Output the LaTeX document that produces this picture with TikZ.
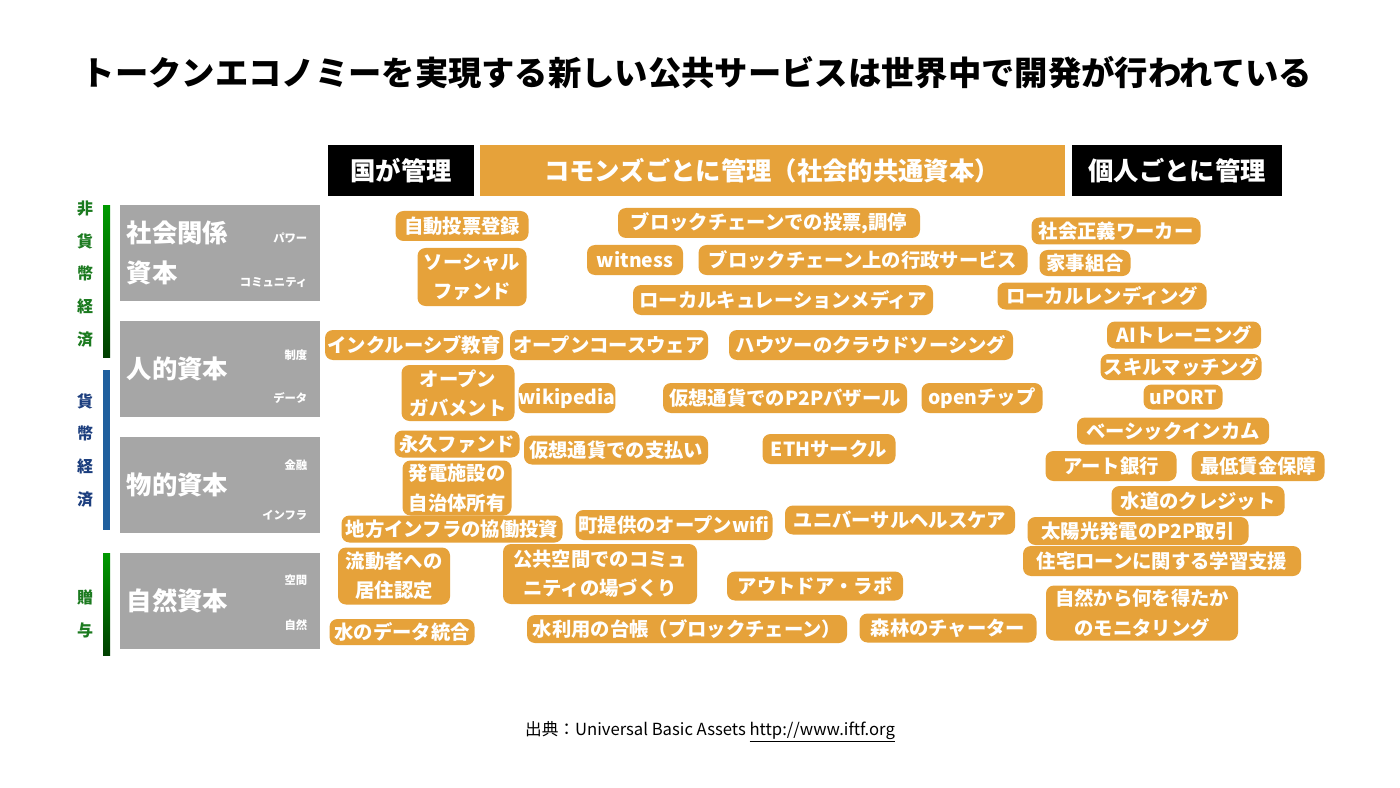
\documentclass[tikz,border=0pt]{standalone}
\usepackage{fontspec}
\setmainfont{Noto Sans CJK JP}
\usetikzlibrary{positioning}
\definecolor{tagorange}{HTML}{E6A23A}
\definecolor{capgray}{HTML}{A6A6A6}
\definecolor{barblue}{HTML}{1F5F9E}
\definecolor{txtgreen}{HTML}{1B7A1F}
\definecolor{txtblue}{HTML}{1C3E7E}
\tikzset{
  tagbox/.style={fill=tagorange, rounded corners=6pt, text=white, inner sep=0pt,
    minimum height=30*0.75pt, minimum width=#1*0.75pt, align=center,
    font=\fontsize{14.5}{22}\selectfont\bfseries},
  tall/.style={minimum height=#1*0.75pt},
  headbox/.style={inner sep=0pt, minimum height=51*0.75pt, minimum width=#1*0.75pt,
    font=\fontsize{19}{22}\selectfont\bfseries},
  capbox/.style={fill=capgray, inner sep=0pt, minimum width=200*0.75pt, minimum height=96*0.75pt},
  captitle/.style={text=white, anchor=west, align=left, font=\fontsize{19}{30}\selectfont\bfseries},
  capsub/.style={text=white, anchor=east, font=\fontsize{8.5}{10}\selectfont\bfseries},
}
\begin{document}
\begin{tikzpicture}[x=0.75pt,y=-0.75pt]
	\useasboundingbox[fill=white] (0,0) rectangle (1400,788);
	\node[font=\fontsize{25}{30}\selectfont\bfseries] (title) at (697,73) {トークンエコノミーを実現する新しい公共サービスは世界中で開発が行われている};
	% column heads
	\node[headbox=146, fill=black, text=white] (state) at (401,171) {国が管理};
	\node[headbox=585, fill=tagorange, text=white] (commons) at (772,171) {コモンズごとに管理（社会的共通資本）};
	\node[headbox=210, fill=black, text=white] (person) at (1177,171) {個人ごとに管理};
	% capital rows
	\node[capbox] (social) at (220,253) {};
	\node[capbox] (human) at (220,369) {};
	\node[capbox] (physical) at (220,485) {};
	\node[capbox] (natural) at (220,601) {};
	\node[captitle] at (122,253) {社会関係\\資本};
	\node[captitle] at (122,369) {人的資本};
	\node[captitle] at (122,485) {物的資本};
	\node[captitle] at (122,601) {自然資本};
	\node[capsub] at (312,238) {パワー};
	\node[capsub] at (312,283) {コミュニティ};
	\node[capsub] at (312,355) {制度};
	\node[capsub] at (312,398) {データ};
	\node[capsub] at (312,465) {金融};
	\node[capsub] at (312,515) {インフラ};
	\node[capsub] at (312,580) {空間};
	\node[capsub] at (312,625) {自然};
	% economy bars
	\shade[top color=green!60!black, bottom color=green!25!black] (103,206) rectangle (110,357);
	\fill[barblue] (103,370) rectangle (110,530);
	\shade[top color=green!60!black, bottom color=green!25!black] (103,553) rectangle (110,655);
	\node[text=txtgreen, align=center, font=\fontsize{12}{24.5}\selectfont\bfseries] (nonmoney) at (85,274) {非\\貨\\幣\\経\\済};
	\node[text=txtblue, align=center, font=\fontsize{12}{24.5}\selectfont\bfseries] (money) at (85,450) {貨\\幣\\経\\済};
	\node[text=txtgreen, align=center, font=\fontsize{12}{24.5}\selectfont\bfseries] (gift) at (85,614) {贈\\与};
	% social
	\node[tagbox=133] (vote) at (462,226) {自動投票登録};
	\node[tagbox=109, tall=58] (sfund) at (472,277) {ソーシャル\\ファンド};
	\node[tagbox=302] (bcvote) at (769,223) {ブロックチェーンでの投票,調停};
	\node[tagbox=96] (witness) at (635,260) {witness};
	\node[tagbox=329] (bcgov) at (863,260) {ブロックチェーン上の行政サービス};
	\node[tagbox=300] (media) at (783,300) {ローカルキュレーションメディア};
	\node[tagbox=169, tall=27] (justice) at (1116,231) {社会正義ワーカー};
	\node[tagbox=91, tall=26] (house) at (1085,263) {家事組合};
	\node[tagbox=209, tall=27] (lend) at (1102,296) {ローカルレンディング};
	% human
	\node[tagbox=178] (incl) at (414,345) {インクルーシブ教育};
	\node[tagbox=198] (ocw) at (609,345) {オープンコースウェア};
	\node[tagbox=284] (howto) at (871,345) {ハウツーのクラウドソーシング};
	\node[tagbox=113, tall=56] (ogov) at (458,393) {オープン\\ガバメント};
	\node[tagbox=95] (wiki) at (567,398) {wikipedia};
	\node[tagbox=244] (bazaar) at (785,398) {仮想通貨でのP2Pバザール};
	\node[tagbox=121] (tip) at (982,398) {openチップ};
	\node[tagbox=154, tall=27] (ai) at (1184,335) {AIトレーニング};
	\node[tagbox=161, tall=26] (skill) at (1181,367) {スキルマッチング};
	\node[tagbox=79, tall=25] (uport) at (1183,397) {uPORT};
	% physical
	\node[tagbox=125, tall=27] (pfund) at (457,444) {永久ファンド};
	\node[tagbox=184, tall=29] (pay) at (616,450) {仮想通貨での支払い};
	\node[tagbox=109, tall=55] (power) at (457,488) {発電施設の\\自治体所有};
	\node[tagbox=133] (eth) at (829,449) {ETHサークル};
	\node[tagbox=192, tall=27] (bi) at (1173,431) {ベーシックインカム};
	\node[tagbox=131] (art) at (1111,466) {アート銀行};
	\node[tagbox=133] (wage) at (1258,466) {最低賃金保障};
	\node[tagbox=173] (water) at (1198,501) {水道のクレジット};
	\node[tagbox=221, tall=27] (infra) at (452,529) {地方インフラの協働投資};
	\node[tagbox=197] (wifi) at (674,525) {町提供のオープンwifi};
	\node[tagbox=230, tall=29] (health) at (900,520) {ユニバーサルヘルスケア};
	\node[tagbox=221, tall=28] (solar) at (1138,531) {太陽光発電のP2P取引};
	\node[tagbox=278] (loan) at (1162,561) {住宅ローンに関する学習支援};
	% natural
	\node[tagbox=112, tall=57] (mobile) at (394,576) {流動者への\\居住認定};
	\node[tagbox=194, tall=60] (space) at (600,574) {公共空間でのコミュ\\ニティの場づくり};
	\node[tagbox=176, tall=29] (lab) at (815,586) {アウトドア・ラボ};
	\node[tagbox=192, tall=55] (monitor) at (1142,613) {自然から何を得たか\\のモニタリング};
	\node[tagbox=145, tall=26] (wdata) at (402,632) {水のデータ統合};
	\node[tagbox=320, tall=28] (ledger) at (687,629) {水利用の台帳（ブロックチェーン）};
	\node[tagbox=177, tall=29] (forest) at (948,628) {森林のチャーター};
	% source
	\node[font=\fontsize{12.5}{15}\selectfont] (source) at (710,732) {出典：Universal Basic Assets \underline{http://www.iftf.org}};
\end{tikzpicture}
\end{document}
